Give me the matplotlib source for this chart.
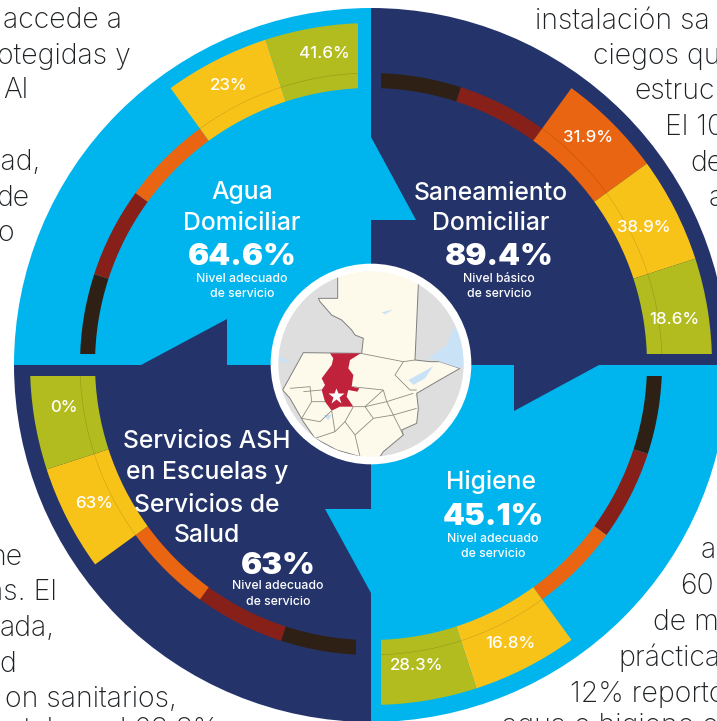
import matplotlib
matplotlib.use("Agg")
import matplotlib.pyplot as plt
from matplotlib.patches import Wedge, Arc, Polygon, Circle, Rectangle

plt.rcParams['font.family'] = ['Inter', 'DejaVu Sans']

LIGHT = '#00B5EE'
NAVY = '#24346B'
DARKTXT = '#1F2225'
levels = ['#2E2015', '#872018', '#E96511', '#F8C319', '#B2BC1E']  # negro -> verde

# porcentajes por nivel de la escalera de servicio
agua_vals = [None, None, None, '23%', '41.6%']
san_vals = [None, None, '31.9%', '38.9%', '18.6%']
hig_vals = [None, None, None, '16.8%', '28.3%']
ash_vals = [None, None, None, '63%', '0%']

STEP = 18
cx, cy = 371, 364
R = 357
r0, r1, r2 = 276, 291, 341

fig = plt.figure(figsize=(7.17, 7.21), dpi=100)
ax = fig.add_axes([0, 0, 1, 1])
ax.set_xlim(0, 717)
ax.set_ylim(721, 0)
ax.axis('off')

# texto de fondo
left_txt = [('accede a', 122, 28), ('otegidas y', 131, 64), ('Al', 28, 98), ('lad,', 41, 170),
            ('de', 29, 206), ('o', 14, 241), ('ne', 22, 565), ('as. El', 57, 600),
            ('ada,', 55, 636), ('d', 16, 672), ('on sanitarios,', 177, 707), ('estaban el 63.8%', 218, 738)]
right_txt = [('instalación sa', 535, 29), ('ciegos qu', 593, 64), ('estruc', 634, 100),
             ('El 10', 665, 135), ('de', 690, 171), ('a', 709, 206), ('a', 701, 558),
             ('60', 680, 594), ('de m', 653, 630), ('práctica', 618, 666),
             ('12% reportó', 570, 702), ('agua e higiene e', 502, 734)]
for s, x, y in left_txt:
    ax.text(x, y, s, ha='right', va='baseline', fontsize=20.5, color=DARKTXT, zorder=1, fontweight='light')
for s, x, y in right_txt:
    ax.text(x, y, s, ha='left', va='baseline', fontsize=20.5, color=DARKTXT, zorder=1, fontweight='light')

# cuadrantes
ax.add_patch(Wedge((cx, cy + 1), R, 180, 270, fc=LIGHT, ec='none', zorder=2))
ax.add_patch(Wedge((cx, cy + 1), R, 270, 360, fc=NAVY, ec='none', zorder=2))
ax.add_patch(Wedge((cx, cy + 1), R, 0, 90, fc=LIGHT, ec='none', zorder=2))
ax.add_patch(Wedge((cx, cy + 1), R, 90, 180, fc=NAVY, ec='none', zorder=2))

# flechas entre cuadrantes
ax.add_patch(Polygon([(227, 319), (141, 365), (227, 365)], fc=NAVY, ec='none', zorder=3))
ax.add_patch(Polygon([(371, 137), (416, 220), (371, 220)], fc=LIGHT, ec='none', zorder=3))
ax.add_patch(Polygon([(514, 411), (599, 365), (514, 365)], fc=NAVY, ec='none', zorder=3))
ax.add_patch(Polygon([(325, 509), (371, 593), (371, 509)], fc=LIGHT, ec='none', zorder=3))


def ring(vals, start, clip):
    # clip = rectangulo x0,y0,w,h que corta las puntas rectas
    rect = Rectangle((clip[0], clip[1]), clip[2], clip[3], transform=ax.transData)
    for i, v in enumerate(vals):
        a1 = start + i * STEP
        a2 = a1 + STEP
        outer = r2 if v is not None else r1
        w = Wedge((cx, cy), outer, a1 - 90, a2 - 90, width=outer - r0, fc=levels[i], ec='none', zorder=4)
        ax.add_patch(w)
        w.set_clip_path(rect)
        if v is not None:
            arc = Arc((cx, cy), 2 * r1, 2 * r1, theta1=a1 - 90, theta2=a2 - 90, color='#000000',
                      lw=0.4, alpha=0.18, zorder=5)
            ax.add_patch(arc)
            arc.set_clip_path(rect)


ring(agua_vals, 270, (0, 0, 358, 354))
ring(san_vals, 0, (381, 0, 400, 354))
ring(hig_vals, 90, (381, 376, 400, 400))
ring(ash_vals, 180, (0, 376, 356, 400))

# porcentajes
val_pos = [(agua_vals[4], 324, 54), (agua_vals[3], 229, 85), (san_vals[2], 588, 138),
           (san_vals[3], 644, 227), (san_vals[4], 674, 319), (ash_vals[4], 64, 407),
           (ash_vals[3], 94, 503), (hig_vals[4], 417, 665), (hig_vals[3], 510, 643)]
for s, x, y in val_pos:
    ax.text(x, y, s, ha='center', va='center', fontsize=12.2, color='white', fontweight='medium', zorder=6)

# titulos
titles = [('Agua', 242, 193), ('Domiciliar', 242, 224), ('Saneamiento', 491, 194), ('Domiciliar', 491, 224),
          ('Higiene', 491, 482), ('Servicios ASH', 207, 442), ('en Escuelas y', 207, 473),
          ('Servicios de', 207, 505), ('Salud', 207, 535)]
for s, x, y in titles:
    ax.text(x, y, s, ha='center', va='center', fontsize=17.8, color='white', fontweight='medium', zorder=6)
big = [('64.6%', 242, 257), ('89.4%', 499, 257), ('45.1%', 493, 517), ('63%', 278, 566)]
for s, x, y in big:
    ax.text(x, y, s, ha='center', va='center', fontsize=22.5, color='white', fontweight='black', zorder=6)
small = [('Nivel adecuado', 242, 279), ('de servicio', 242, 294), ('Nivel básico', 499, 279), ('de servicio', 499, 294),
         ('Nivel adecuado', 493, 539), ('de servicio', 493, 554), ('Nivel adecuado', 278, 586), ('de servicio', 278, 602)]
for s, x, y in small:
    ax.text(x, y, s, ha='center', va='center', fontsize=8.8, color='white', fontweight='medium', zorder=6)

# mapa del centro
def crop(pts):
    return [(270 + x / 3, 265 + y / 3) for x, y in pts]

clip = Circle((cx, cy), 94, transform=ax.transData)
ax.add_patch(Circle((cx, cy), 94, fc='#DEDEDE', ec='none', zorder=7))

guate = [(203, 0), (203, 100), (145, 100), (150, 110), (185, 150), (215, 165), (245, 195), (255, 210), (280, 220),
         (275, 265), (100, 263), (38, 375), (60, 400), (100, 470), (135, 520), (200, 555), (270, 575), (320, 590),
         (340, 560), (400, 510), (395, 495), (440, 475), (445, 430), (440, 385), (500, 350), (570, 310), (510, 290),
         (480, 290), (435, 285), (445, 60), (445, 0)]
water = [[(550, 190), (530, 240), (475, 280), (510, 290), (570, 310), (600, 290), (590, 200)],
         [(415, 345), (470, 315), (490, 303), (465, 340), (430, 360)],
         [(335, 142), (370, 133), (345, 148)],
         [(160, 450), (185, 450), (175, 465)],
         [(25, 270), (60, 290), (35, 295)],
         [(190, 565), (260, 575), (300, 600), (200, 600)]]
red = [(180, 265), (272, 265), (240, 285), (235, 310), (250, 330), (245, 365), (268, 370), (262, 380), (235, 375),
       (230, 395), (250, 425), (210, 425), (185, 437), (165, 410), (155, 375), (165, 360), (155, 340), (185, 300),
       (190, 280)]
borders = [[(272, 265), (400, 290), (435, 285)], [(400, 290), (375, 330), (420, 375), (440, 375)],
           [(245, 365), (340, 375), (285, 425), (250, 425)], [(340, 375), (350, 410), (285, 425)],
           [(350, 410), (430, 385)], [(350, 410), (370, 450), (440, 430)], [(370, 450), (400, 510)],
           [(285, 425), (310, 460), (370, 450)], [(310, 460), (255, 510), (270, 575)], [(250, 425), (225, 470), (255, 510)],
           [(185, 437), (195, 500), (135, 520)], [(100, 380), (155, 375)], [(60, 370), (120, 365), (125, 410), (165, 410)],
           [(125, 410), (95, 460), (150, 470), (185, 437)], [(195, 500), (225, 470)]]

items = [Polygon(crop(guate), fc='#FDFAEB', ec='#7F7F7F', lw=0.7, zorder=8)]
for w in water:
    items.append(Polygon(crop(w), fc='#C9E2F5', ec='none', zorder=9))
for b in borders:
    items.append(Polygon(crop(b), closed=False, fc='none', ec='#8C8C80', lw=0.6, zorder=10))
items.append(Polygon(crop(red), fc='#C0223B', ec='none', zorder=11))
for p in items:
    ax.add_patch(p)
    p.set_clip_path(clip)
ax.plot(270 + 197 / 3, 265 + 392 / 3, marker='*', ms=12, mfc='white', mec='none', zorder=12)
ax.add_patch(Circle((cx, cy), 96.5, fc='none', ec='white', lw=5.5, zorder=13))

fig.savefig('out.png', dpi=100)
